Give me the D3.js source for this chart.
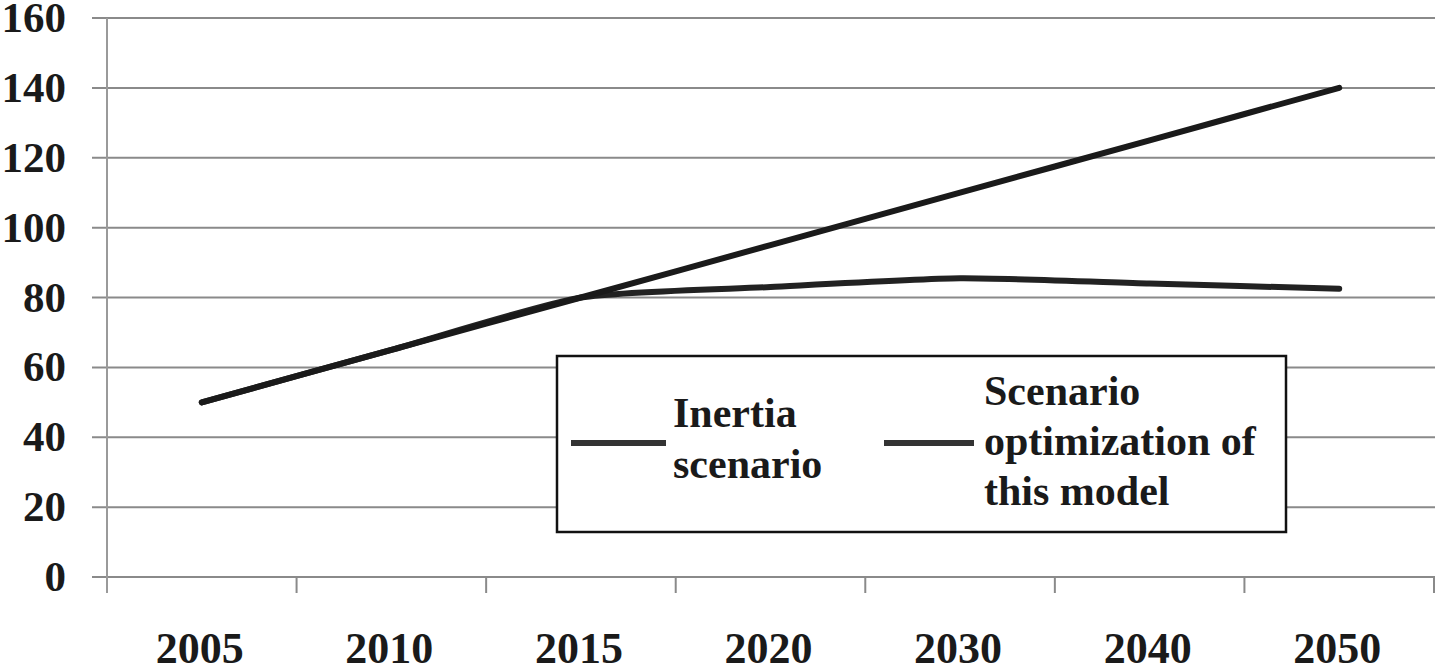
<!DOCTYPE html>
<html>
<head>
<meta charset="utf-8">
<script src="https://cdn.jsdelivr.net/npm/d3@7"></script>
<style>
  html, body { margin: 0; padding: 0; background: #fff; }
  svg { display: block; }
  text { font-family: "Liberation Serif", "Times New Roman", serif; font-weight: bold; fill: #1a1a1a; }
</style>
</head>
<body>
<svg id="chart" width="1435" height="665"></svg>
<script>
const years = ["2005", "2010", "2015", "2020", "2030", "2040", "2050"];
const inertia = [50, 65, 80, 95, 110, 125, 140];
const optimization = [50, 65, 80, 83, 85.5, 84, 82.5];
const yTicks = [0, 20, 40, 60, 80, 100, 120, 140, 160];
const seriesNames = ["Inertia scenario", "Scenario optimization of this model"];

(function () {
const svg = d3.select("#chart");
const W = 1435, H = 665;
const pL = 107, pR = 1434, pT = 18, pB = 577;

const x = d3.scaleBand().domain(years).range([pL, pR]).padding(0);
const y = d3.scaleLinear().domain([0, 160]).range([pB, pT]);

// gridlines (with tick stubs on the left)
svg.append("g").selectAll("line").data(yTicks).join("line")
  .attr("x1", 92).attr("x2", W)
  .attr("y1", d => y(d)).attr("y2", d => y(d))
  .attr("stroke", "#8a8a8a").attr("stroke-width", 2);

// y axis line
svg.append("line")
  .attr("x1", pL).attr("x2", pL).attr("y1", pT).attr("y2", pB + 16)
  .attr("stroke", "#9a9a9a").attr("stroke-width", 2);

// x tick marks at category boundaries
const bounds = years.map(d => x(d)).concat([pR]);
svg.append("g").selectAll("line").data(bounds.slice(1)).join("line")
  .attr("x1", d => d).attr("x2", d => d)
  .attr("y1", pB).attr("y2", pB + 16)
  .attr("stroke", "#8a8a8a").attr("stroke-width", 2);

// y labels
svg.append("g").selectAll("text").data(yTicks).join("text")
  .attr("x", 66).attr("y", d => y(d) + 14)
  .attr("text-anchor", "end")
  .style("font-size", "43px")
  .text(d => d);

// x labels
svg.append("g").selectAll("text").data(years).join("text")
  .attr("x", d => x(d) + x.bandwidth() / 2 - 2)
  .attr("y", 663)
  .attr("text-anchor", "middle")
  .style("font-size", "44px")
  .text(d => d);

// lines
const line = d3.line()
  .x((d, i) => x(years[i]) + x.bandwidth() / 2)
  .y(d => y(d))
  .curve(d3.curveCardinal.tension(0.4));

svg.append("path").datum(optimization)
  .attr("d", line).attr("fill", "none")
  .attr("stroke", "#222").attr("stroke-width", 6).attr("stroke-linecap", "round");
svg.append("path").datum(inertia)
  .attr("d", line).attr("fill", "none")
  .attr("stroke", "#1a1a1a").attr("stroke-width", 6).attr("stroke-linecap", "round");

// legend
const lg = svg.append("g");
lg.append("rect")
  .attr("x", 557).attr("y", 356).attr("width", 729).attr("height", 176)
  .attr("fill", "#fff").attr("stroke", "#111").attr("stroke-width", 2.5);

lg.append("line").attr("x1", 571).attr("x2", 666).attr("y1", 443).attr("y2", 443)
  .attr("stroke", "#333").attr("stroke-width", 6);
lg.append("line").attr("x1", 884).attr("x2", 974).attr("y1", 443).attr("y2", 443)
  .attr("stroke", "#333").attr("stroke-width", 6);

const t1 = lg.append("text").style("font-size", "42px");
t1.append("tspan").attr("x", 673).attr("y", 427).text("Inertia");
t1.append("tspan").attr("x", 673).attr("y", 478).text("scenario");

const t2 = lg.append("text").style("font-size", "42px");
t2.append("tspan").attr("x", 984).attr("y", 405).text("Scenario");
t2.append("tspan").attr("x", 984).attr("y", 455).text("optimization of");
t2.append("tspan").attr("x", 984).attr("y", 505).text("this model");
})();
</script>
</body>
</html>
